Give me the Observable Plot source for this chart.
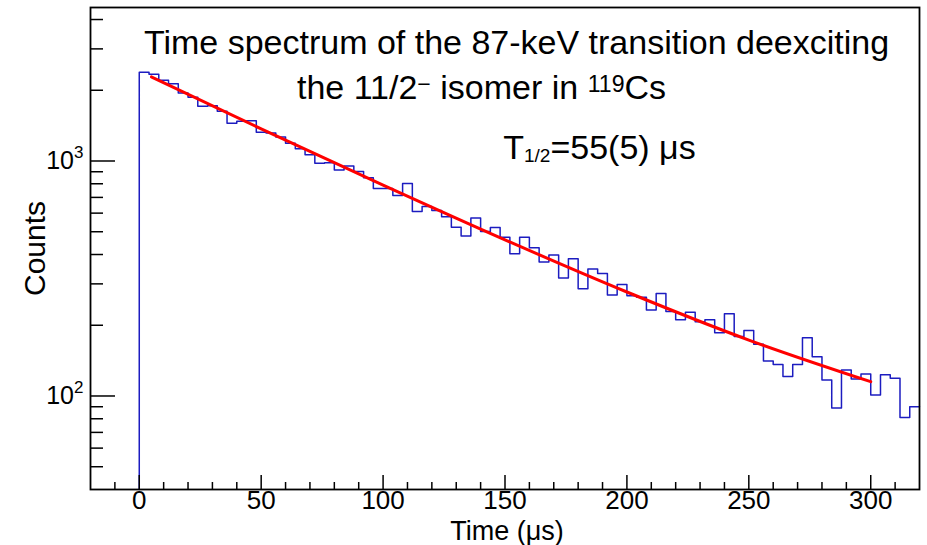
<!DOCTYPE html>
<html><head><meta charset="utf-8">
<script src="https://cdn.jsdelivr.net/npm/d3@7"></script>
<script src="https://cdn.jsdelivr.net/npm/@observablehq/plot@0.6"></script>
<style>html,body{margin:0;padding:0;background:#fff;overflow:hidden}</style>
</head><body><div id="chart"></div>
<script>
// ---- data ----
const binWidth = 4;
const binStart = [0,4,8,12,16,20,24,28,32,36,40,44,48,52,56,60,64,68,72,76,
  80,84,88,92,96,100,104,108,112,116,120,124,128,132,136,140,144,148,152,156,
  160,164,168,172,176,180,184,188,192,196,200,204,208,212,216,220,224,228,232,236,
  240,244,248,252,256,260,264,268,272,276,280,284,288,292,296,300,304,308,312,316];
const counts = [2385,2339,2205,2131,1949,1866,1709,1720,1627,1446,
  1475,1485,1324,1316,1266,1189,1128,1064,977,984,
  916,952,903,849,764,764,713,803,610,641,
  616,579,523,479,572,501,521,474,403,474,
  427,372,398,318,384,286,347,332,269,298,
  267,263,232,273,229,211,227,207,211,186,
  224,179,190,166,141,136,121,136,177,147,
  117,89,129,118,124,101,123,119,81,90];
const fitTime = [5,50,100,150,200,250,300];
const fitCounts = [2280,1370,790,462,277,173,115];

const xDomain = [-20, 320];
const yDomain = [40, 4500];
const xMajorTicks = [0,50,100,150,200,250,300];
const xMinorTicks = [-10,10,20,30,40,60,70,80,90,110,120,130,140,160,170,180,190,
  210,220,230,240,260,270,280,290,310];
const yMajorTicks = [100, 1000];
const yMinorTicks = [50,60,70,80,90,200,300,400,500,600,700,800,900,2000,3000,4000];
const yTickLabels = ["10^{2}", "10^{3}"];

const titleLines = ["Time spectrum of the 87-keV transition deexciting",
                    "the 11/2^{\u2212} isomer in ^{119}Cs"];
const halfLifeText = "T_{1/2}=55(5) \u03bcs";
const xLabel = "Time (\u03bcs)";
const yLabel = "Counts";

// ---- derived tables ----
const histPts = [{t: binStart[0], c: yDomain[0]}]
  .concat(binStart.map((t, i) => ({t, c: counts[i]})))
  .concat([{t: binStart[binStart.length - 1] + binWidth, c: counts[counts.length - 1]}]);
const fitPts = fitTime.map((t, i) => ({t, c: fitCounts[i]}));

const W = 927, H = 545;
const mL = 90, mR = 8, mT = 7, mB = 56;

const plot = Plot.plot({
  width: W, height: H,
  marginLeft: mL, marginRight: mR, marginTop: mT, marginBottom: mB,
  style: {fontFamily: "'Liberation Sans', Arial, Helvetica, sans-serif", background: "white", fontSize: "10px"},
  x: {domain: xDomain},
  y: {type: "log", domain: yDomain},
  marks: [
    Plot.line(histPts, {x: "t", y: "c", curve: "step-after", stroke: "#1c1cc0", strokeWidth: 1.5}),
    Plot.line(fitPts, {x: "t", y: "c", curve: "monotone-x", stroke: "#ff0000", strokeWidth: 3}),
    Plot.frame({stroke: "black", strokeWidth: 1.8}),
    // ticks drawn inside the frame
    Plot.axisX(xMajorTicks, {anchor: "bottom", tickSize: -14, tickFormat: () => "", label: null, strokeWidth: 1.5}),
    Plot.axisX(xMinorTicks, {anchor: "bottom", tickSize: -7, tickFormat: () => "", label: null, strokeWidth: 1.5}),
    Plot.axisY(yMajorTicks, {anchor: "left", tickSize: -25, tickFormat: () => "", label: null, strokeWidth: 1.5}),
    Plot.axisY(yMinorTicks, {anchor: "left", tickSize: -13, tickFormat: () => "", label: null, strokeWidth: 1.5}),
    // tick labels
    Plot.axisX(xMajorTicks, {anchor: "bottom", tickSize: 0, tickPadding: 1, fontSize: 26, label: null}),
    Plot.axisY(yMajorTicks, {anchor: "left", tickSize: 0, tickPadding: 7, fontSize: 25, label: null,
      tickFormat: (d) => yTickLabels[yMajorTicks.indexOf(d)]}),
    // axis titles
    Plot.text([xLabel], {text: d => d, frameAnchor: "bottom", dx: 2, dy: 50, lineAnchor: "bottom", fontSize: 27}),
    Plot.text([yLabel], {text: d => d, frameAnchor: "left", dx: -46, rotate: -90, lineAnchor: "bottom", textAnchor: "middle", fontSize: 30}),
    // titles inside the frame
    Plot.text([titleLines[0]], {text: d => d, frameAnchor: "top", dx: 11.5, dy: 46.3, lineAnchor: "bottom", fontSize: 34}),
    Plot.text([titleLines[1]], {text: d => d, frameAnchor: "top", dx: -23.5, dy: 91.3, lineAnchor: "bottom", fontSize: 34}),
    Plot.text([halfLifeText], {text: d => d, frameAnchor: "top-left", textAnchor: "start", dx: 412.7, dy: 151.3, lineAnchor: "bottom", fontSize: 34})
  ]
});

document.getElementById("chart").appendChild(plot);

// Convert ^{..} and _{..} markup into real superscript/subscript tspans
const richOpts = new Map([
  [yTickLabels[0], {supScale: 0.68, supShift: 0.42}],
  [yTickLabels[1], {supScale: 0.68, supShift: 0.42}],
  [titleLines[1], {supScale: 0.68, supShift: 0.2}],
  [halfLifeText, {subScale: 0.56, subShift: 0.1}]
]);
d3.select(plot).selectAll("text").each(function () {
  const raw = this.textContent;
  const opts = richOpts.get(raw);
  if (!opts) return;
  const fs = parseFloat(getComputedStyle(this).fontSize);
  const parts = raw.split(/(\^\{[^}]*\}|_\{[^}]*\})/).filter(s => s.length);
  const el = d3.select(this);
  el.text(null);
  let cur = 0;
  for (const p of parts) {
    let txt = p, off = 0, size = null;
    if (p.startsWith("^{")) { txt = p.slice(2, -1); off = -opts.supShift * fs; size = opts.supScale * fs; }
    else if (p.startsWith("_{")) { txt = p.slice(2, -1); off = opts.subShift * fs; size = opts.subScale * fs; }
    const ts = el.append("tspan").text(txt);
    if (off - cur !== 0) ts.attr("dy", off - cur);
    if (size) ts.attr("font-size", size);
    cur = off;
  }
});
</script>
</body></html>
